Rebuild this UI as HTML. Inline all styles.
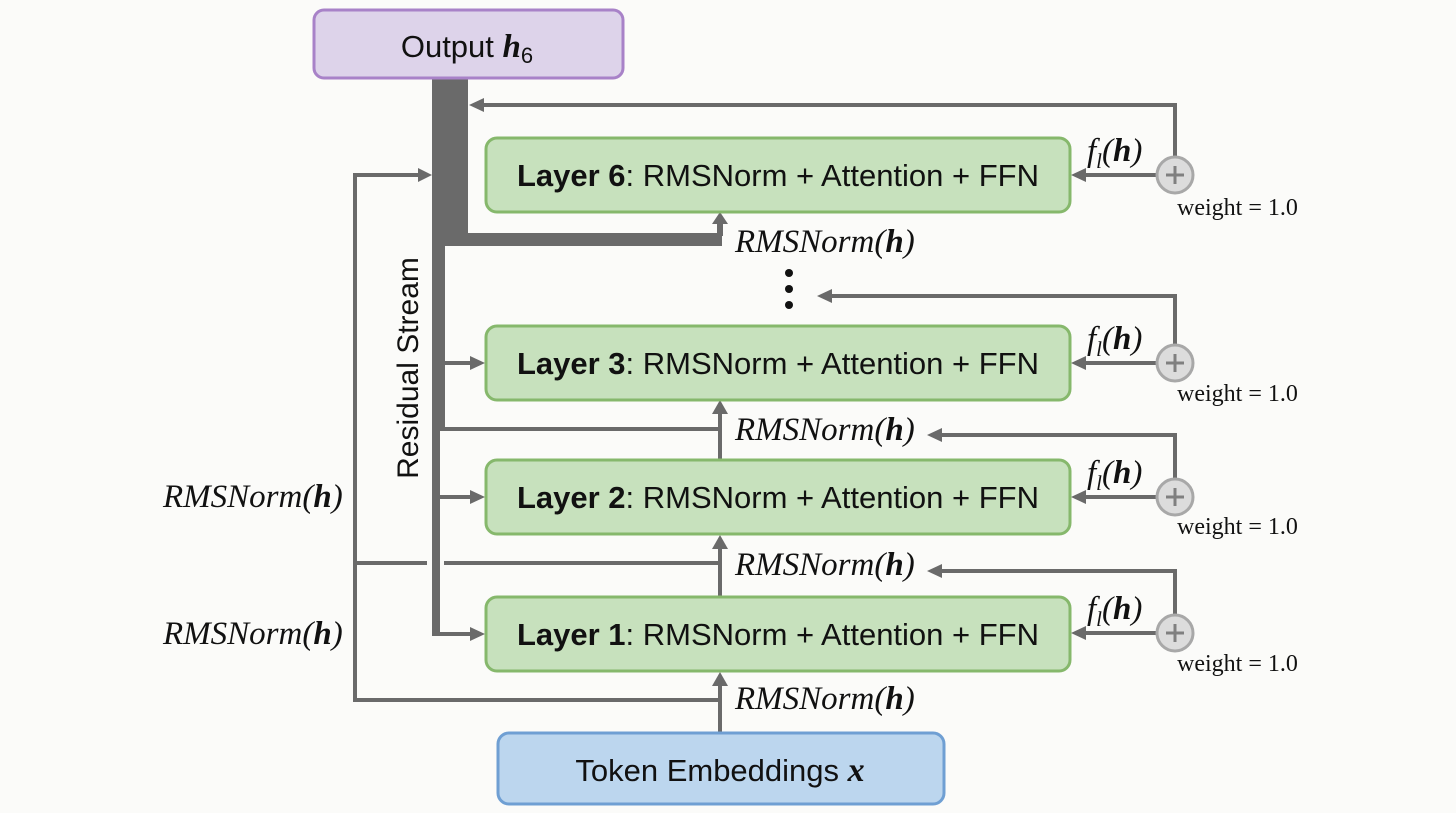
<!DOCTYPE html>
<html><head><meta charset="utf-8"><style>
html,body{margin:0;padding:0;background:#fbfbf9;}
svg{display:block;}
.sans{font-family:"Liberation Sans",sans-serif;}
.serif{font-family:"Liberation Serif",serif;}
</style></head><body>
<svg width="1456" height="813" viewBox="0 0 1456 813" xmlns="http://www.w3.org/2000/svg">
<g stroke="#6a6a6a" fill="none">
<rect x="432" y="78" width="36" height="162" fill="#6a6a6a" stroke="none"/>
<rect x="432" y="233" width="290" height="13" fill="#6a6a6a" stroke="none"/>
<rect x="432" y="78" width="13" height="352" fill="#6a6a6a" stroke="none"/>
<line x1="436" y1="428" x2="436" y2="636" stroke-width="8"/>
<path d="M720,236 L720,222" stroke-width="6"/>
<path d="M712,224 L720,212 L728,224 Z" fill="#6a6a6a" stroke="none"/>
<polyline points="355,563 355,175 420,175" stroke-width="4"/>
<path d="M418,168 L432,175 L418,182 Z" fill="#6a6a6a" stroke="none"/>
<polyline points="355,563 355,700 720,700" stroke-width="4"/>
<line x1="355" y1="563" x2="427" y2="563" stroke-width="4"/>
<line x1="444" y1="563" x2="720" y2="563" stroke-width="4"/>
<line x1="440" y1="429" x2="720" y2="429" stroke-width="4"/>
<line x1="720" y1="732" x2="720" y2="684" stroke-width="4"/>
<path d="M712,686 L720,672 L728,686 Z" fill="#6a6a6a" stroke="none"/>
<line x1="720" y1="597" x2="720" y2="548" stroke-width="4"/>
<path d="M712,549 L720,535 L728,549 Z" fill="#6a6a6a" stroke="none"/>
<line x1="720" y1="460" x2="720" y2="413" stroke-width="4"/>
<path d="M712,414 L720,400 L728,414 Z" fill="#6a6a6a" stroke="none"/>
<line x1="440" y1="363" x2="472" y2="363" stroke-width="4"/>
<path d="M470,356 L485,363 L470,370 Z" fill="#6a6a6a" stroke="none"/>
<line x1="440" y1="497" x2="472" y2="497" stroke-width="4"/>
<path d="M470,490 L485,497 L470,504 Z" fill="#6a6a6a" stroke="none"/>
<line x1="436" y1="634" x2="472" y2="634" stroke-width="4"/>
<path d="M470,627 L485,634 L470,641 Z" fill="#6a6a6a" stroke="none"/>
<polyline points="1175,160 1175,105 482,105" stroke-width="4"/>
<path d="M484,98 L469,105 L484,112 Z" fill="#6a6a6a" stroke="none"/>
<polyline points="1175,348 1175,296 830,296" stroke-width="4"/>
<path d="M832,289 L817,296 L832,303 Z" fill="#6a6a6a" stroke="none"/>
<polyline points="1175,482 1175,435 940,435" stroke-width="4"/>
<path d="M942,428 L927,435 L942,442 Z" fill="#6a6a6a" stroke="none"/>
<polyline points="1175,617 1175,571 940,571" stroke-width="4"/>
<path d="M942,564 L927,571 L942,578 Z" fill="#6a6a6a" stroke="none"/>
<line x1="1158" y1="175" x2="1084" y2="175" stroke-width="4"/>
<path d="M1086,168 L1071,175 L1086,182 Z" fill="#6a6a6a" stroke="none"/>
<line x1="1158" y1="363" x2="1084" y2="363" stroke-width="4"/>
<path d="M1086,356 L1071,363 L1086,370 Z" fill="#6a6a6a" stroke="none"/>
<line x1="1158" y1="497" x2="1084" y2="497" stroke-width="4"/>
<path d="M1086,490 L1071,497 L1086,504 Z" fill="#6a6a6a" stroke="none"/>
<line x1="1158" y1="633" x2="1084" y2="633" stroke-width="4"/>
<path d="M1086,626 L1071,633 L1086,640 Z" fill="#6a6a6a" stroke="none"/>
</g>
<g>
<g transform="translate(1175,175)"><circle r="18" fill="#dcdcdc" stroke="#a8a8a8" stroke-width="3"/><path d="M-9,0 H9 M0,-9 V9" stroke="#808080" stroke-width="3"/></g>
<g transform="translate(1175,363)"><circle r="18" fill="#dcdcdc" stroke="#a8a8a8" stroke-width="3"/><path d="M-9,0 H9 M0,-9 V9" stroke="#808080" stroke-width="3"/></g>
<g transform="translate(1175,497)"><circle r="18" fill="#dcdcdc" stroke="#a8a8a8" stroke-width="3"/><path d="M-9,0 H9 M0,-9 V9" stroke="#808080" stroke-width="3"/></g>
<g transform="translate(1175,633)"><circle r="18" fill="#dcdcdc" stroke="#a8a8a8" stroke-width="3"/><path d="M-9,0 H9 M0,-9 V9" stroke="#808080" stroke-width="3"/></g>
</g>
<rect x="314" y="10" width="309" height="68" rx="10" fill="#ddd3ea" stroke="#a882c8" stroke-width="3"/>
<text x="467" y="57" text-anchor="middle" class="sans" font-size="31" fill="#111">Output <tspan class="serif" font-style="italic" font-weight="bold" font-size="33">h</tspan><tspan font-size="22" dy="6">6</tspan></text>
<g class="sans" font-size="31" fill="#111">
<rect x="486" y="138" width="584" height="74" rx="11" fill="#c7e1bd" stroke="#86b86c" stroke-width="3"/>
<text x="778" y="186" text-anchor="middle"><tspan font-weight="bold">Layer 6</tspan>: RMSNorm + Attention + FFN</text>
<rect x="486" y="326" width="584" height="74" rx="11" fill="#c7e1bd" stroke="#86b86c" stroke-width="3"/>
<text x="778" y="374" text-anchor="middle"><tspan font-weight="bold">Layer 3</tspan>: RMSNorm + Attention + FFN</text>
<rect x="486" y="460" width="584" height="74" rx="11" fill="#c7e1bd" stroke="#86b86c" stroke-width="3"/>
<text x="778" y="508" text-anchor="middle"><tspan font-weight="bold">Layer 2</tspan>: RMSNorm + Attention + FFN</text>
<rect x="486" y="597" width="584" height="74" rx="11" fill="#c7e1bd" stroke="#86b86c" stroke-width="3"/>
<text x="778" y="645" text-anchor="middle"><tspan font-weight="bold">Layer 1</tspan>: RMSNorm + Attention + FFN</text>
<rect x="498" y="733" width="446" height="71" rx="11" fill="#bcd6ee" stroke="#6f9fd3" stroke-width="3"/>
<text x="720" y="781" text-anchor="middle">Token Embeddings <tspan class="serif" font-style="italic" font-weight="bold" font-size="34">x</tspan></text>
<text transform="translate(418,368) rotate(-90)" text-anchor="middle" font-size="30">Residual Stream</text>
</g>
<circle cx="789" cy="273" r="4" fill="#111"/><circle cx="789" cy="289" r="4" fill="#111"/><circle cx="789" cy="305" r="4" fill="#111"/>
<g class="serif" font-size="33" font-style="italic" fill="#111">
<text x="735" y="252">RMSNorm(<tspan font-weight="bold">h</tspan>)</text>
<text x="735" y="440">RMSNorm(<tspan font-weight="bold">h</tspan>)</text>
<text x="735" y="575">RMSNorm(<tspan font-weight="bold">h</tspan>)</text>
<text x="735" y="709">RMSNorm(<tspan font-weight="bold">h</tspan>)</text>
<text x="163" y="507">RMSNorm(<tspan font-weight="bold">h</tspan>)</text>
<text x="163" y="644">RMSNorm(<tspan font-weight="bold">h</tspan>)</text>
<text x="1087" y="161">f<tspan font-size="21" dy="7">l</tspan><tspan dy="-7">(</tspan><tspan font-weight="bold">h</tspan>)</text>
<text x="1087" y="349">f<tspan font-size="21" dy="7">l</tspan><tspan dy="-7">(</tspan><tspan font-weight="bold">h</tspan>)</text>
<text x="1087" y="483">f<tspan font-size="21" dy="7">l</tspan><tspan dy="-7">(</tspan><tspan font-weight="bold">h</tspan>)</text>
<text x="1087" y="619">f<tspan font-size="21" dy="7">l</tspan><tspan dy="-7">(</tspan><tspan font-weight="bold">h</tspan>)</text>
</g>
<g class="serif" font-size="24" fill="#111">
<text x="1177" y="215">weight = 1.0</text>
<text x="1177" y="401">weight = 1.0</text>
<text x="1177" y="534">weight = 1.0</text>
<text x="1177" y="671">weight = 1.0</text>
</g>
</svg>
</body></html>
